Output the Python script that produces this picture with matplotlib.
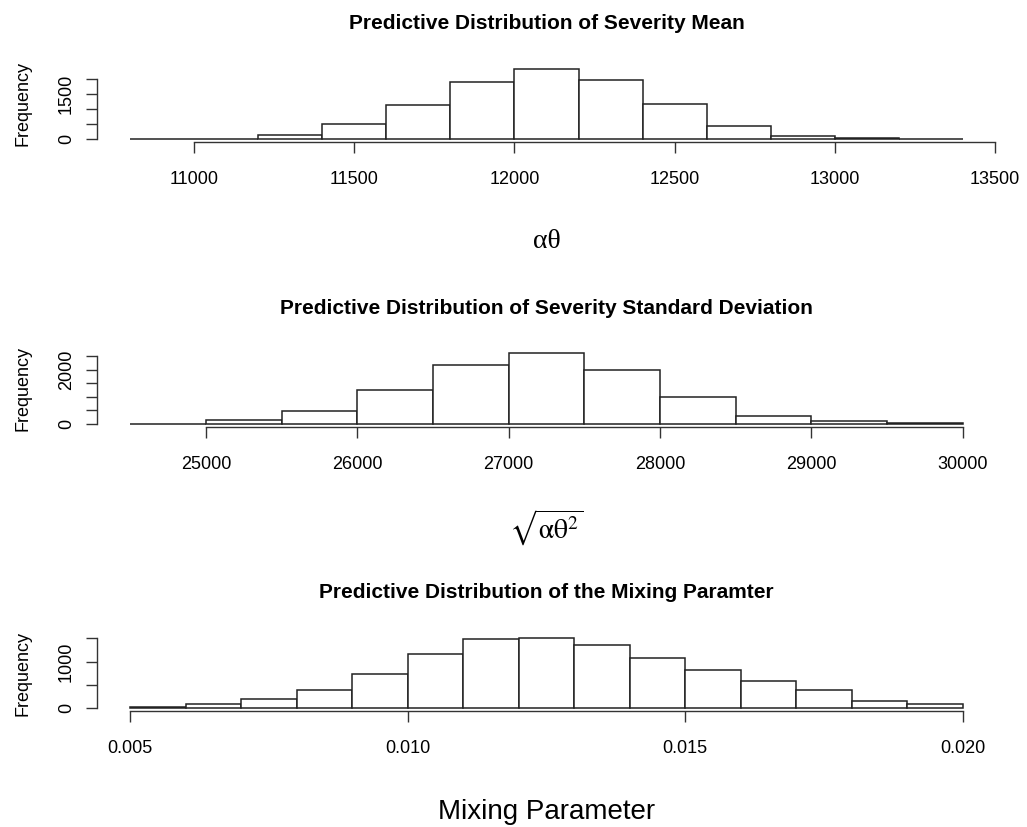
import matplotlib
matplotlib.use("Agg")
import matplotlib.pyplot as plt
import numpy as np

plt.rcParams['font.family'] = ['Liberation Sans', 'DejaVu Sans']
plt.rcParams['mathtext.fontset'] = 'stix'

# ---- data ----
mean_breaks = [10800, 11000, 11200, 11400, 11600, 11800, 12000, 12200, 12400,
               12600, 12800, 13000, 13200, 13400]
mean_counts = [3, 20, 145, 500, 1133, 1889, 2344, 1978, 1156, 433, 111, 33, 10]
mean_xticks = [11000, 11500, 12000, 12500, 13000, 13500]
mean_yticks = [0, 500, 1000, 1500, 2000]
mean_ylabels = ['0', '', '', '1500', '']

sd_breaks = [24500, 25000, 25500, 26000, 26500, 27000, 27500, 28000, 28500,
             29000, 29500, 30000]
sd_counts = [5, 146, 476, 1244, 2183, 2598, 1988, 988, 293, 85, 25]
sd_xticks = [25000, 26000, 27000, 28000, 29000, 30000]
sd_yticks = [0, 500, 1000, 1500, 2000, 2500]
sd_ylabels = ['0', '', '', '', '2000', '']

mix_breaks = [0.005, 0.006, 0.007, 0.008, 0.009, 0.010, 0.011, 0.012, 0.013,
              0.014, 0.015, 0.016, 0.017, 0.018, 0.019, 0.020]
mix_counts = [22, 86, 194, 396, 741, 1173, 1489, 1511, 1353, 1079, 820, 576,
              396, 165, 86]
mix_xticks = [0.005, 0.010, 0.015, 0.020]
mix_xlabels = ['0.005', '0.010', '0.015', '0.020']
mix_yticks = [0, 500, 1000, 1500]
mix_ylabels = ['0', '', '1000', '']

titles = ["Predictive Distribution of Severity Mean",
          "Predictive Distribution of Severity Standard Deviation",
          "Predictive Distribution of the Mixing Paramter"]
xlabels = ['αθ', r'$\sqrt{\mathrm{\alpha\theta}^2}$', 'Mixing Parameter']

W, H = 1027, 827
fig = plt.figure(figsize=(W / 100, H / 100), dpi=100)
fig.patch.set_facecolor('white')

left_px, right_px = 97, 996
plot_h = 76
bottoms = [142, 426.5, 711]

panels = [
    (mean_breaks, mean_counts, mean_xticks, [str(t) for t in mean_xticks], mean_yticks, mean_ylabels),
    (sd_breaks, sd_counts, sd_xticks, [str(t) for t in sd_xticks], sd_yticks, sd_ylabels),
    (mix_breaks, mix_counts, mix_xticks, mix_xlabels, mix_yticks, mix_ylabels),
]

for i, (breaks, counts, xt, xtl, yt, ytl) in enumerate(panels):
    b = bottoms[i]
    ax = fig.add_axes([left_px / W, 1 - b / H, (right_px - left_px) / W, plot_h / H])
    breaks = np.array(breaks, dtype=float)
    widths = np.diff(breaks)
    ax.bar(breaks[:-1], counts, width=widths, align='edge', facecolor='white',
           edgecolor='#222222', linewidth=1.1)
    rng = breaks[-1] - breaks[0]
    ax.set_xlim(breaks[0] - 0.04 * rng, breaks[-1] + 0.04 * rng)
    m = max(counts)
    ax.set_ylim(-0.04 * m, 1.04 * m)
    for s in ['top', 'right']:
        ax.spines[s].set_visible(False)
    ax.spines['left'].set_bounds(yt[0], yt[-1])
    ax.spines['bottom'].set_bounds(xt[0], xt[-1])
    for s in ['left', 'bottom']:
        ax.spines[s].set_color('#333333')
        ax.spines[s].set_linewidth(1.0)
    ax.set_xticks(xt)
    ax.set_xticklabels(xtl)
    ax.set_yticks(yt)
    ax.set_yticklabels(ytl, rotation=90, va='center')
    ax.tick_params(axis='x', direction='out', length=8, width=1.0, color='#333333',
                   labelsize=13, pad=13)
    ax.tick_params(axis='y', direction='out', length=8, width=1.0, color='#333333',
                   labelsize=13, pad=8)
    ax.patch.set_alpha(0)
    ax.set_ylabel('Frequency', fontsize=13, labelpad=19)
    cx = (left_px + right_px) / 2 / W
    top = b - plot_h
    fig.text(cx, 1 - (top - 37) / H, titles[i], ha='center', va='baseline',
             fontsize=15, fontweight='bold')
    if i == 0:
        fig.text(cx, 1 - (b + 100) / H, xlabels[i], ha='center', va='center',
                 fontsize=20, family=['Liberation Serif', 'DejaVu Serif'])
    else:
        fig.text(cx, 1 - (b + 101) / H, xlabels[i], ha='center', va='center',
                 fontsize=20)

fig.savefig('out.png', dpi=100, facecolor='white')
